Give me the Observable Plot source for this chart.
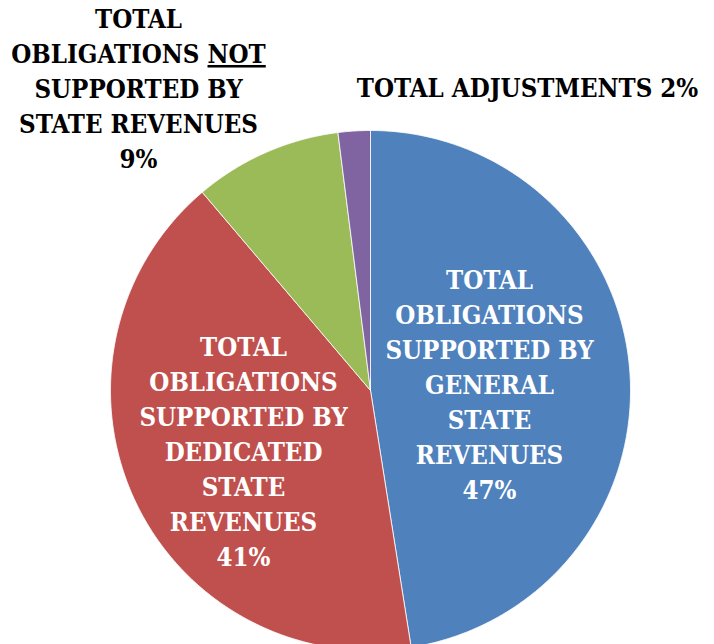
<!DOCTYPE html>
<html>
<head>
<meta charset="utf-8">
<script src="https://cdn.jsdelivr.net/npm/d3@7"></script>
<script src="https://cdn.jsdelivr.net/npm/@observablehq/plot@0.6"></script>
<style>
  html, body { margin: 0; padding: 0; background: #fff; overflow: hidden; }
  #chart { width: 714px; height: 644px; }
  #chart svg text, #chart svg tspan { font-family: "DejaVu Serif Condensed", "DejaVu Serif", serif !important; font-stretch: condensed; }
</style>
</head>
<body>
<div id="chart"></div>
<script>
// ---- data ----
const categories = [
  "General state revenues",
  "Dedicated state revenues",
  "Not supported by state revenues",
  "Total adjustments"
];
const values = [47.5, 41.3, 9.2, 2.0];
const percentLabels = ["47%", "41%", "9%", "2%"];
const labelTexts = [
  "TOTAL\nOBLIGATIONS\nSUPPORTED BY\nGENERAL\nSTATE\nREVENUES",
  "TOTAL\nOBLIGATIONS\nSUPPORTED BY\nDEDICATED\nSTATE\nREVENUES",
  "TOTAL\nOBLIGATIONS NOT\nSUPPORTED BY\nSTATE REVENUES",
  "TOTAL ADJUSTMENTS"
];
const colors = ["#4F81BD", "#C0504D", "#9BBB59", "#8064A2"];

// ---- layout ----
const W = 714, H = 644;
const cx = 370, cy = 390, R = 260;
const labelLayout = [
  {x: 489, y: 263.5, fill: "white", sep: "\n"},
  {x: 243, y: 330.5, fill: "white", sep: "\n"},
  {x: 138, y: 2.5, fill: "black", sep: "\n"},
  {x: 527, y: 72, fill: "black", sep: " "}
];

const table = categories.map((c, i) => ({name: c, value: values[i]}));
const arcs = d3.pie().sort(null).value(d => d.value)(table);

// polygon vertices of each slice, derived from the pie angles
const pts = [];
arcs.forEach(a => {
  const name = a.data.name;
  pts.push({name, x: cx, y: cy});
  const n = Math.max(2, Math.ceil((a.endAngle - a.startAngle) / (Math.PI / 360)));
  for (let k = 0; k <= n; k++) {
    const t = a.startAngle + (a.endAngle - a.startAngle) * k / n;
    pts.push({name, x: cx + R * Math.sin(t), y: cy - R * Math.cos(t)});
  }
  pts.push({name, x: cx, y: cy});
});

const labels = categories.map((c, i) => ({
  name: c,
  text: labelTexts[i] + labelLayout[i].sep + percentLabels[i],
  x: labelLayout[i].x,
  y: labelLayout[i].y,
  fill: labelLayout[i].fill
}));

const chart = Plot.plot({
  width: W,
  height: H,
  margin: 0,
  style: {background: "white", overflow: "hidden"},
  x: {domain: [0, W], range: [0, W], axis: null},
  y: {domain: [0, H], range: [0, H], axis: null},
  color: {domain: categories, range: colors},
  marks: [
    Plot.line(pts, {x: "x", y: "y", z: "name", fill: "name", stroke: "#ffffff", strokeWidth: 1, strokeOpacity: 0.8, curve: "linear"}),
    Plot.text(labels, {
      x: "x", y: "y", text: "text", fill: d => d.fill,
      fontSize: 25.6, fontWeight: "bold", lineHeight: 1.37,
      lineAnchor: "top", textAnchor: "middle"
    })
  ]
});

// underline "NOT"
chart.querySelectorAll("tspan").forEach(ts => {
  if (ts.textContent === "OBLIGATIONS NOT") {
    ts.textContent = "OBLIGATIONS ";
    const u = document.createElementNS("http://www.w3.org/2000/svg", "tspan");
    u.setAttribute("text-decoration", "underline");
    u.style.textDecoration = "underline";
    u.textContent = "NOT";
    ts.appendChild(u);
  }
});

document.getElementById("chart").appendChild(chart);
</script>
</body>
</html>
